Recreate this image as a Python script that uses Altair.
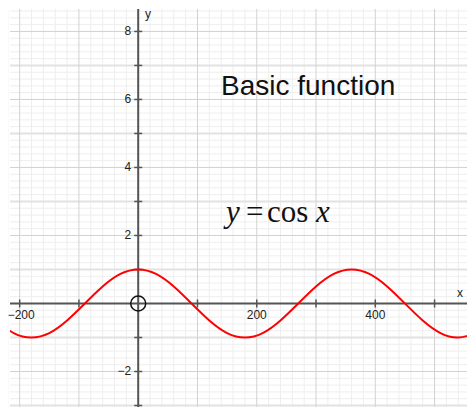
import altair as alt
import pandas as pd

# ---- data ----
curve_x = [-240, -210, -180, -150, -120, -90, -60, -30, 0, 30, 60, 90, 120, 150,
           180, 210, 240, 270, 300, 330, 360, 390, 420, 450, 480, 510, 540, 570]
curve_y = [-0.5, -0.87, -1, -0.87, -0.5, 0, 0.5, 0.87, 1, 0.87, 0.5, 0, -0.5, -0.87,
           -1, -0.87, -0.5, 0, 0.5, 0.87, 1, 0.87, 0.5, 0, -0.5, -0.87, -1, -0.87]

major_x = [-200, -100, 0, 100, 200, 300, 400, 500]
minor_x = [v for v in range(-220, 561, 20) if v % 100 != 0]
even_y = [-2, 0, 2, 4, 6, 8]
odd_y = [-3, -1, 1, 3, 5, 7]
minor_y = [round(i * 0.2, 1) for i in range(-16, 44) if i % 5 != 0]

x_ticks = [-200, -100, 100, 200, 300, 400, 500]
y_ticks = [-3, -2, -1, 1, 2, 3, 4, 5, 6, 7, 8]
x_tick_labels = ["−200", "200", "400"]
x_tick_label_vals = [-200, 200, 400]
y_tick_labels = ["8", "6", "4", "2", "−2"]
y_tick_label_vals = [8, 6, 4, 2, -2]

title_text = "Basic function"

XS = alt.Scale(domain=[-216.3, 554.7], nice=False, zero=False)
YS = alt.Scale(domain=[-3.044, 8.66], nice=False, zero=False)

def X(f="x"):
    return alt.X(f, type="quantitative", scale=XS, axis=None)

def Y(f="y"):
    return alt.Y(f, type="quantitative", scale=YS, axis=None)

minor_v = alt.Chart(pd.DataFrame({"x": minor_x})).mark_rule(
    color="#eeeeee", strokeWidth=1).encode(x=X())
minor_h = alt.Chart(pd.DataFrame({"y": minor_y})).mark_rule(
    color="#eeeeee", strokeWidth=1).encode(y=Y())
odd_h = alt.Chart(pd.DataFrame({"y": odd_y})).mark_rule(
    color="#e2e2e2", strokeWidth=2).encode(y=Y())
major_v = alt.Chart(pd.DataFrame({"x": major_x})).mark_rule(
    color="#d2d2d2", strokeWidth=1).encode(x=X())
major_h = alt.Chart(pd.DataFrame({"y": even_y})).mark_rule(
    color="#d2d2d2", strokeWidth=1).encode(y=Y())

axis_col = "#555555"
x_axis = alt.Chart(pd.DataFrame({"y": [0]})).mark_rule(
    color=axis_col, strokeWidth=2).encode(y=Y())
y_axis = alt.Chart(pd.DataFrame({"x": [0]})).mark_rule(
    color=axis_col, strokeWidth=2).encode(x=X())

xt = alt.Chart(pd.DataFrame({"x": x_ticks, "y": [0] * len(x_ticks)})).mark_tick(
    orient="vertical", size=8, thickness=1.5, color=axis_col, opacity=1
).encode(x=X(), y=Y())
yt = alt.Chart(pd.DataFrame({"x": [0] * len(y_ticks), "y": y_ticks})).mark_tick(
    orient="horizontal", size=8, thickness=1.5, color=axis_col, opacity=1
).encode(x=X(), y=Y())

xl_df = pd.DataFrame({"x": x_tick_label_vals, "y": [0] * 3, "t": x_tick_labels})
xl_first = alt.Chart(xl_df.iloc[:1]).mark_text(
    font="Liberation Sans", fontSize=12, color="#222222", align="left", baseline="top", dy=7, dx=-12
).encode(x=X(), y=Y(), text="t:N")
xl_rest = alt.Chart(xl_df.iloc[1:]).mark_text(
    font="Liberation Sans", fontSize=12, color="#222222", align="center", baseline="top", dy=7
).encode(x=X(), y=Y(), text="t:N")
yl = alt.Chart(pd.DataFrame({"x": [0] * 5, "y": y_tick_label_vals, "t": y_tick_labels})).mark_text(
    font="Liberation Sans", fontSize=12, color="#222222", align="right", baseline="middle", dx=-7
).encode(x=X(), y=Y(), text="t:N")

axis_names = alt.Chart(pd.DataFrame({"x": [16.5, 543], "y": [8.5, 0.31], "t": ["y", "x"]})).mark_text(
    font="Liberation Sans", fontSize=12, color="#222222", align="center", baseline="middle"
).encode(x=X(), y=Y(), text="t:N")

curve = alt.Chart(pd.DataFrame({"x": curve_x, "y": curve_y})).mark_line(
    color="#ff0000", strokeWidth=2, interpolate="natural", clip=True
).encode(x=X(), y=Y())

origin = alt.Chart(pd.DataFrame({"x": [0], "y": [0]})).mark_point(
    shape="circle", size=225, filled=False, stroke="#111111", strokeWidth=1.5, opacity=1
).encode(x=X(), y=Y())

title = alt.Chart(pd.DataFrame({"x": [139.7], "y": [6.13], "t": [title_text]})).mark_text(
    font="Liberation Sans", fontSize=28, color="#111111", align="left", baseline="alphabetic"
).encode(x=X(), y=Y(), text="t:N")

eq_parts = pd.DataFrame({
    "x": [148.1, 182, 217.3, 300],
    "y": [2.406, 2.406, 2.406, 2.406],
    "t": ["y", "=", "cos", "x"],
    "st": ["italic", "normal", "normal", "italic"],
})
eq_italic = alt.Chart(eq_parts[eq_parts.st == "italic"]).mark_text(
    font="Liberation Serif", fontSize=31, fontStyle="italic", color="#111111",
    align="left", baseline="alphabetic"
).encode(x=X(), y=Y(), text="t:N")
eq_normal = alt.Chart(eq_parts[eq_parts.st == "normal"]).mark_text(
    font="Liberation Serif", fontSize=31, color="#111111",
    align="left", baseline="alphabetic"
).encode(x=X(), y=Y(), text="t:N")

chart = alt.layer(
    minor_v, minor_h, odd_h, major_v, major_h, x_axis, y_axis, xt, yt,
    xl_first, xl_rest, yl, axis_names, curve, origin, title, eq_italic, eq_normal
).properties(
    width=457, height=398,
    autosize=alt.AutoSizeParams(type="none"),
    padding={"left": 2, "top": 1, "right": 0, "bottom": 0},
).configure_view(stroke=None)

chart.save("out.html", embed_options={"renderer": "svg", "actions": False})
